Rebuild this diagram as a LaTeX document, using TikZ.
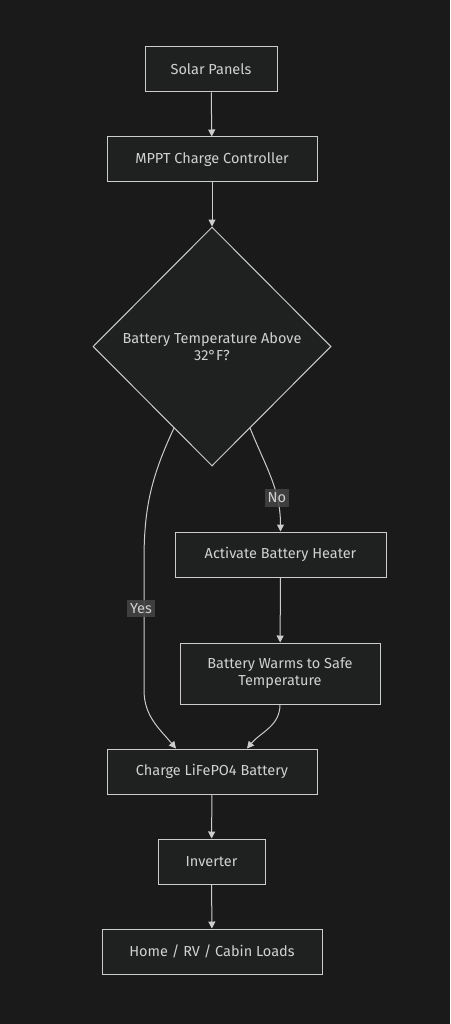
\documentclass[tikz,border=0pt]{standalone}
\usepackage{fontspec}
\setmainfont{Fira Sans}
\usetikzlibrary{shapes.geometric,arrows.meta}
\definecolor{bgcol}{HTML}{1A1A1A}
\definecolor{boxfill}{HTML}{1F2020}
\definecolor{linecol}{HTML}{CCCCCC}
\definecolor{labelbg}{HTML}{454545}
\begin{document}
\begin{tikzpicture}[x=1pt, y=1pt,
               box_style/.style={rectangle,draw=linecol,fill=boxfill,line width=1pt,inner sep=0pt,text=linecol!90!white,font=\fontsize{14.5}{17}\selectfont,align=center},
               decision_style/.style={diamond,draw=linecol,fill=boxfill,line width=1pt,inner sep=0pt,minimum width=238pt,minimum height=239pt,text=linecol!90!white,font=\fontsize{14.5}{17}\selectfont,align=center},
               edge_style/.style={draw=linecol,line width=1pt,-{Triangle[length=7pt,width=7pt]}},
               label_style/.style={fill=labelbg,fill opacity=0.85,text opacity=1,text=linecol!90!white,inner xsep=3pt,inner ysep=3.5pt,font=\fontsize{14.5}{17}\selectfont}]
                \fill[bgcol] (0,0) rectangle (450,-1024);
                \useasboundingbox (0,0) rectangle (450,-1024);

                \node[box_style, minimum width=132pt, minimum height=45pt] (solar) at (211,-69.5) {Solar Panels};
                \node[box_style, minimum width=210pt, minimum height=45pt] (mppt) at (212,-159.5) {MPPT Charge Controller};
                \node[decision_style] (temp) at (212,-346.5) {Battery Temperature Above\\32°F?};
                \node[box_style, minimum width=211pt, minimum height=45pt] (heater) at (280.5,-554.5) {Activate Battery Heater};
                \node[box_style, minimum width=200pt, minimum height=61pt] (warms) at (280,-673.5) {Battery Warms to Safe\\Temperature};
                \node[box_style, minimum width=210pt, minimum height=45pt] (charge) at (212,-771.5) {Charge LiFePO4 Battery};
                \node[box_style, minimum width=107pt, minimum height=45pt] (inverter) at (211.5,-861.5) {Inverter};
                \node[box_style, minimum width=220pt, minimum height=45pt] (loads) at (212,-951.5) {Home / RV / Cabin Loads};

                \coordinate (yes_top) at (144,-560);
                \coordinate (yes_bot) at (144,-690);

                \draw[edge_style]  (solar) -- (mppt);
                \draw[edge_style]  (mppt) -- (temp);
                \draw[edge_style]  (temp.295) to[out=292,in=90] node[label_style, pos=0.7]{No} (heater.north);
                \draw[edge_style]  (temp.245) to[out=245,in=90] (yes_top) -- node[label_style, pos=0.37, xshift=-3pt]{Yes} (yes_bot) to[out=270,in=130] ([xshift=-36pt]charge.north);
                \draw[edge_style]  (heater) -- (warms);
                \draw[edge_style]  (warms.south) to[out=270,in=50] ([xshift=35pt]charge.north);
                \draw[edge_style]  (charge) -- (inverter);
                \draw[edge_style]  (inverter) -- (loads);
            \end{tikzpicture}
\end{document}
